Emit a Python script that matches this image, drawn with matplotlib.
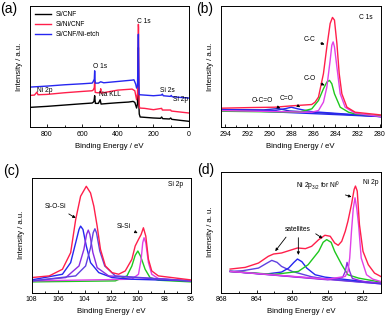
import matplotlib
matplotlib.use("Agg")
import matplotlib.pyplot as plt
from matplotlib.ticker import MultipleLocator

plt.rcParams["font.family"] = ["Liberation Sans", "DejaVu Sans"]
plt.rcParams["mathtext.fontset"] = "custom"
plt.rcParams["mathtext.rm"] = "Liberation Sans"
plt.rcParams["mathtext.it"] = "Liberation Sans:italic"

RED = "#ff1f4b"
BLUE = "#2626f0"
GREEN = "#1ec81e"
MAGENTA = "#e040e8"
PURPLE = "#8a2be2"
VIOLET = "#6040e0"

# (a) survey spectra
a_be_black = [895, 800, 700, 600, 545, 540, 535, 531, 527, 510, 500, 495, 450, 400, 340, 315, 305, 295,
              290, 287, 285, 283, 280, 275, 250, 200, 160, 154, 148, 110, 103, 97, 50, 0]
a_black = [60, 63, 67, 71, 73, 75, 78, 95, 72, 72, 83, 70, 72, 74, 76, 78, 75, 58,
           70, 150, 240, 80, 40, 31, 30, 28, 27, 31, 26, 25, 28, 24, 21, 18]
a_be_red = [895, 870, 862, 856, 850, 800, 700, 600, 545, 538, 533, 531, 528, 515, 500, 497, 494, 400,
            320, 305, 295, 290, 287, 285, 284, 283, 281, 278, 250, 200, 154, 150, 103, 100, 50, 0]
a_red = [96, 97, 102, 106, 98, 99, 104, 108, 110, 113, 120, 140, 105, 104, 104, 116, 103, 112,
         115, 110, 83, 100, 180, 310, 300, 150, 70, 58, 57, 53, 57, 52, 52, 49, 46, 43]
a_be_blue = [895, 800, 700, 600, 545, 540, 533, 531, 528, 510, 497, 480, 400, 320, 310, 300, 295, 290,
             287, 285, 283, 281, 278, 200, 155, 150, 145, 105, 100, 95, 50, 0]
a_blue = [121, 124, 128, 131, 133, 137, 145, 170, 133, 133, 137, 134, 138, 142, 143, 130, 118, 125,
          200, 280, 150, 100, 98, 95, 97, 100, 95, 93, 96, 92, 90, 88]

# (b) C 1s
b_be_env = [294.4, 291.6, 289.5, 288.0, 286.15, 285.85, 285.54, 285.09, 284.78, 284.48, 284.27, 284.09,
            283.87, 283.66, 283.42, 282.96, 282.21, 279.9]
b_env = [57, 59, 60, 64, 68, 75, 90, 160, 240, 310, 328, 320, 250, 160, 100, 60, 45, 37]
b_be_cc = [294.4, 286.15, 285.54, 285.09, 284.78, 284.48, 284.33, 284.21, 284.09, 283.87, 283.57,
           283.12, 282.21, 279.9]
b_cc = [50, 45, 50, 75, 120, 200, 245, 255, 240, 180, 100, 60, 42, 32]
b_be_co = [294.4, 287.36, 286.15, 285.54, 285.09, 284.78, 284.54, 284.33, 284.09, 283.57, 282.81,
           282.21, 279.9]
b_co = [48, 45, 55, 80, 115, 135, 140, 130, 100, 60, 45, 40, 34]
b_be_c_o = [294.4, 289.5, 288.5, 288.0, 287.4, 286.2, 279.9]
b_c_o = [53, 50, 56, 60, 55, 47, 32]
b_be_oco = [294.4, 290.5, 289.2, 288.2, 279.9]
b_oco = [53, 52, 56, 49, 32]
b_be_base = [294.4, 279.9]
b_base = [53, 32]

# (c) Si 2p
c_be_env = [108.0, 106.68, 105.68, 105.06, 104.68, 104.31, 103.88, 103.56, 103.31, 103.06, 102.81,
            102.44, 101.94, 101.44, 100.94, 100.44, 100.19, 99.94, 99.74, 99.57, 99.39, 99.19, 98.94,
            98.44, 96.0]
c_env = [45, 50, 70, 120, 220, 290, 320, 300, 260, 200, 130, 80, 60, 55, 65, 100, 140, 160, 175, 195,
         170, 100, 65, 50, 38]
c_be_p1 = [108.0, 105.68, 105.06, 104.68, 104.43, 104.31, 104.13, 103.88, 103.56, 102.94, 101.94,
           100.44, 96.0]
c_p1 = [38, 55, 90, 150, 190, 200, 190, 140, 90, 60, 45, 40, 35]
c_be_p2 = [108.0, 105.43, 104.43, 104.06, 103.86, 103.73, 103.61, 103.38, 103.06, 102.19, 96.0]
c_p2 = [35, 45, 80, 130, 175, 188, 175, 120, 75, 50, 35]
c_be_p3 = [108.0, 104.68, 103.93, 103.56, 103.36, 103.23, 103.11, 102.86, 102.49, 101.69, 96.0]
c_p3 = [35, 50, 80, 135, 180, 192, 180, 125, 80, 50, 35]
c_be_p4 = [108.0, 101.69, 100.81, 100.44, 100.19, 99.99, 99.79, 99.44, 99.07, 98.44, 96.0]
c_p4 = [32, 35, 50, 80, 112, 125, 110, 70, 45, 37, 32]
c_be_p5 = [108.0, 100.44, 99.94, 99.74, 99.62, 99.52, 99.39, 99.19, 98.94, 98.44, 96.0]
c_p5 = [35, 40, 55, 100, 150, 165, 150, 90, 55, 42, 35]

# (d) Ni 2p
d_be_env = [867.0, 865.3, 863.8, 862.7, 862.1, 861.2, 860.0, 859.4, 858.5, 857.8, 857.0, 856.3, 855.7,
            855.2, 854.8, 854.4, 854.0, 853.7, 853.3, 853.0, 852.85, 852.65, 852.4, 852.0, 851.4,
            850.7, 850.0]
d_env = [70, 75, 88, 108, 115, 118, 128, 133, 131, 138, 158, 171, 168, 148, 141, 153, 183, 213, 263,
         308, 318, 303, 203, 123, 83, 58, 48]
d_be_s1 = [867.0, 865.6, 863.8, 862.9, 862.3, 861.7, 861.2, 860.0, 858.9, 857.8, 856.3, 850.0]
d_s1 = [63, 65, 73, 87, 96, 90, 78, 63, 55, 47, 41, 26]
d_be_s2 = [867.0, 863.0, 861.2, 860.4, 859.8, 859.4, 858.9, 858.35, 857.4, 856.3, 854.0, 850.0]
d_s2 = [63, 55, 61, 73, 90, 100, 92, 73, 53, 46, 39, 27]
d_be_ni2 = [867.0, 862.0, 860.8, 859.3, 858.2, 857.0, 856.5, 856.1, 855.6, 855.2, 854.4, 853.7, 852.5,
            850.0]
d_ni2 = [63, 54, 58, 63, 83, 123, 150, 158, 150, 123, 83, 53, 43, 31]
d_be_ni0 = [867.0, 856.0, 854.0, 853.7, 853.5, 853.3, 853.1, 852.9, 852.7, 852.5, 852.2, 851.6,
            850.9, 850.0]
d_ni0 = [63, 40, 48, 63, 103, 183, 250, 283, 250, 203, 103, 53, 40, 33]
d_be_p = [867.0, 856.0, 854.3, 854.0, 853.8, 853.5, 853.2, 852.0, 850.0]
d_p = [63, 38, 45, 63, 90, 63, 42, 33, 28]
d_be_base = [867.0, 850.0]
d_base = [63, 26]

W, H = 387, 319
fig = plt.figure(figsize=(W / 100, H / 100), dpi=100)


def box(l, r, t, b):
    return [l / W, 1 - b / H, (r - l) / W, (b - t) / H]


def style(ax, major, minor, ylab="Intensity / a.u."):
    ax.xaxis.set_major_locator(MultipleLocator(major))
    ax.xaxis.set_minor_locator(MultipleLocator(minor))
    ax.tick_params(which="both", direction="in", top=False, left=False, labelleft=False,
                   labelsize=5, pad=2.5, width=0.6)
    ax.tick_params(which="major", length=2.5)
    ax.tick_params(which="minor", length=1.5)
    for s in ax.spines.values():
        s.set_linewidth(0.7)
    ax.set_xlabel("Binding Energy / eV", fontsize=5.6, labelpad=3.5)
    ax.set_ylabel(ylab, fontsize=5.6, labelpad=5)


lw = 1.0
fs = 4.8
arrow = dict(arrowstyle="-|>", color="black", lw=0.6, mutation_scale=4)

# (a)
ax = fig.add_axes(box(30, 189, 5.7, 127.3))
ax.plot(a_be_black, a_black, color="black", lw=lw, label="Si/CNF")
ax.plot(a_be_red, a_red, color=RED, lw=lw, label="Si/Ni/CNF")
ax.plot(a_be_blue, a_blue, color=BLUE, lw=lw, label="Si/CNF/Ni-etch")
ax.set_xlim(895, 0)
ax.set_ylim(0, 366)
style(ax, 200, 100)
ax.legend(loc="upper left", fontsize=4.8, frameon=False, handlelength=2.4, handletextpad=0.6,
          labelspacing=0.45, borderaxespad=0.4, bbox_to_anchor=(0.0, 1.0))
ax.text(291, 318, "C 1s", fontsize=fs, va="center")
ax.text(542, 183, "O 1s", fontsize=fs, va="center")
ax.text(505, 100, "Na KLL", fontsize=fs, va="center")
ax.text(853, 111, "Ni 2p", fontsize=fs, va="center")
ax.text(163, 111, "Si 2s", fontsize=fs, va="center")
ax.text(92, 83, "Si 2p", fontsize=fs, va="center")

# (b)
ax = fig.add_axes(box(220.7, 380.7, 5.7, 127.3))
ax.plot(b_be_base, b_base, color=BLUE, lw=lw)
ax.plot(b_be_oco, b_oco, color="#3030c8", lw=lw)
ax.plot(b_be_c_o, b_c_o, color=BLUE, lw=lw)
ax.plot(b_be_co, b_co, color=GREEN, lw=lw)
ax.plot(b_be_cc, b_cc, color=MAGENTA, lw=lw)
ax.plot(b_be_env, b_env, color=RED, lw=lw)
ax.set_xlim(294.4, 279.9)
ax.set_ylim(0, 363)
style(ax, 2, 1)
ax.text(281.9, 328, "C 1s", fontsize=fs, va="center")
ax.annotate("C-C", xy=(284.75, 245), xytext=(286.9, 262), fontsize=fs, va="center", arrowprops=arrow)
ax.annotate("C-O", xy=(284.75, 122), xytext=(286.9, 145), fontsize=fs, va="center", arrowprops=arrow)
ax.annotate("O-C=O", xy=(289.0, 57), xytext=(291.6, 80), fontsize=fs, va="center", arrowprops=arrow)
ax.annotate("C=O", xy=(287.2, 60), xytext=(289.1, 85), fontsize=fs, va="center", arrowprops=arrow)

# (c)
ax = fig.add_axes(box(31.7, 190.7, 178, 292.5))
ax.plot(c_be_p4, c_p4, color=GREEN, lw=lw)
ax.plot(c_be_p5, c_p5, color=MAGENTA, lw=lw)
ax.plot(c_be_p1, c_p1, color=BLUE, lw=lw)
ax.plot(c_be_p2, c_p2, color=PURPLE, lw=lw)
ax.plot(c_be_p3, c_p3, color=VIOLET, lw=lw)
ax.plot(c_be_env, c_env, color=RED, lw=lw)
ax.set_xlim(108, 96)
ax.set_ylim(0, 345)
style(ax, 2, 1)
ax.text(97.75, 325, "Si 2p", fontsize=fs, va="center")
ax.annotate("Si-O-Si", xy=(104.5, 220), xytext=(106.98, 260), fontsize=fs, va="center", arrowprops=arrow)
ax.annotate("Si-Si", xy=(99.82, 175), xytext=(101.56, 200), fontsize=fs, va="center", arrowprops=arrow)

# (d)
ax = fig.add_axes(box(221.3, 380.7, 172, 292.5))
ax.plot(d_be_base, d_base, color=PURPLE, lw=lw)
ax.plot(d_be_s1, d_s1, color=VIOLET, lw=lw)
ax.plot(d_be_s2, d_s2, color=BLUE, lw=lw)
ax.plot(d_be_ni2, d_ni2, color=GREEN, lw=lw)
ax.plot(d_be_p, d_p, color=PURPLE, lw=lw)
ax.plot(d_be_ni0, d_ni0, color=MAGENTA, lw=lw)
ax.plot(d_be_env, d_env, color=RED, lw=lw)
ax.set_xlim(868, 850)
ax.set_ylim(0, 360)
style(ax, 4, 2, ylab="Intensity / a. u.")
ax.text(852.0, 330, "Ni 2p", fontsize=fs, va="center")
ax.annotate(r"Ni 2p$_{3/2}$ for Ni$^0$", xy=(853.0, 283), xytext=(859.6, 318), fontsize=fs,
            va="center", arrowprops=arrow)
ax.text(860.8, 187, "satellites", fontsize=fs, va="center")
ax.annotate("", xy=(862.1, 117), xytext=(860.5, 172), arrowprops=arrow)
ax.annotate("", xy=(859.3, 104), xytext=(859.3, 172), arrowprops=arrow)
ax.annotate("", xy=(856.3, 157), xytext=(857.6, 180), arrowprops=arrow)

fig.text(0.0, 1 - 2 / H, "(a)", fontsize=10, va="top")
fig.text(196 / W, 1 - 2 / H, "(b)", fontsize=10, va="top")
fig.text(3 / W, 1 - 164 / H, "(c)", fontsize=10, va="top")
fig.text(197 / W, 1 - 163 / H, "(d)", fontsize=10, va="top")

fig.savefig("out.png", dpi=100)
